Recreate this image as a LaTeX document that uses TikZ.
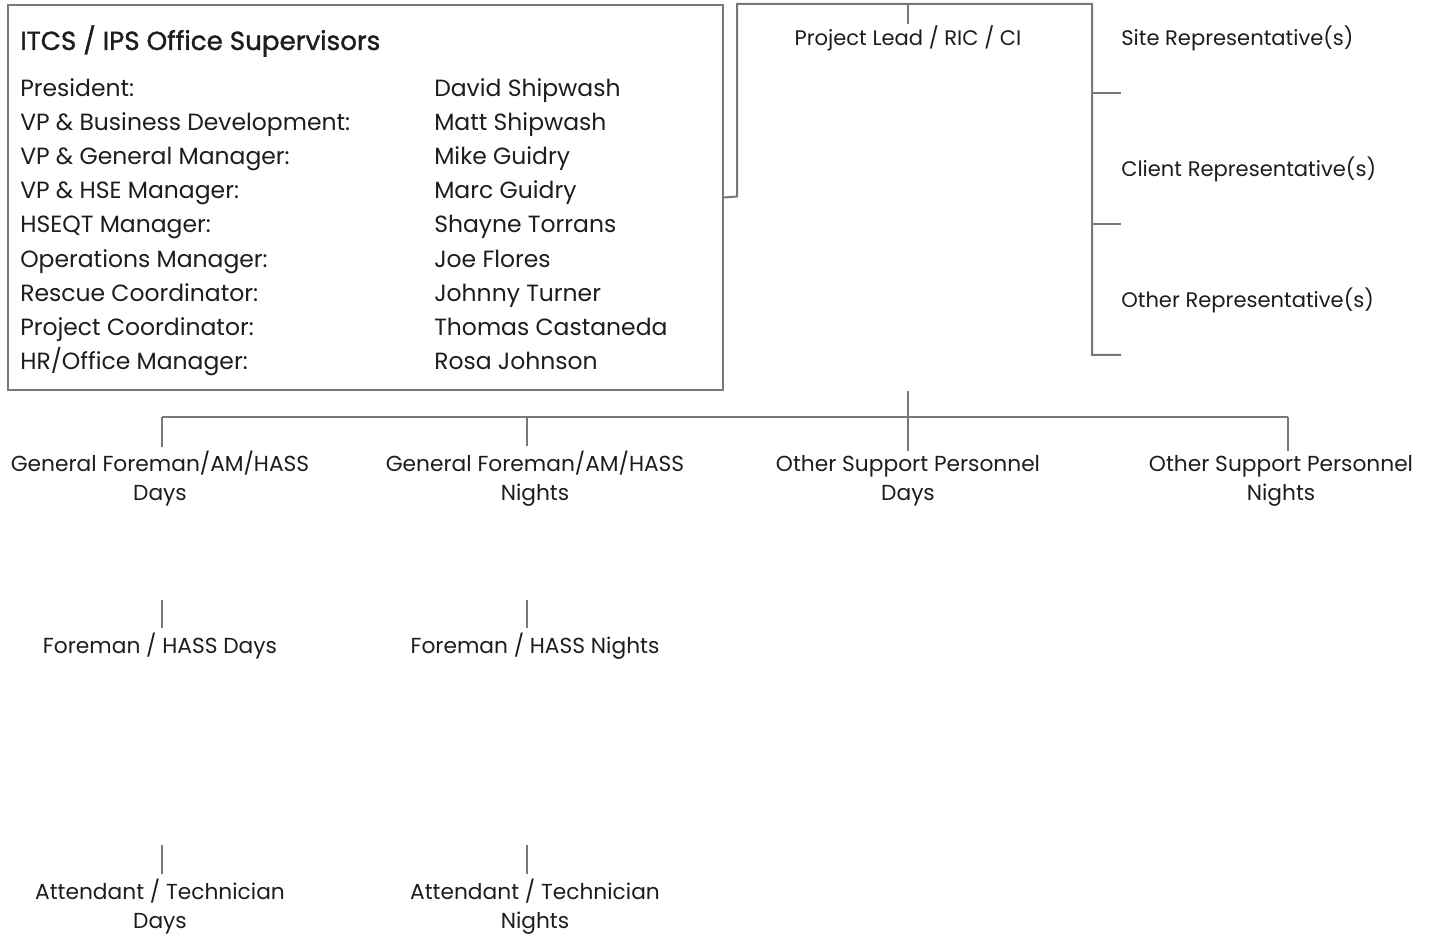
\documentclass[tikz,border=0pt]{standalone}
\usepackage{fontspec}
\setmainfont{Poppins}
\newfontfamily\headfont[FakeBold=1.3]{Poppins}
\usetikzlibrary{positioning}
\definecolor{linegrey}{HTML}{77787B}
\definecolor{inkgrey}{HTML}{1D1D1B}
\tikzstyle{frame} = [draw=linegrey, line width=1.5pt, rectangle, inner sep=0pt]
\tikzstyle{link} = [draw=linegrey, line width=1.5pt]
\tikzstyle{bar} = [draw=linegrey, line width=2.2pt]
\tikzstyle{rowtext} = [text=inkgrey, font=\fontsize{17.6}{22}\selectfont, anchor=base west, inner sep=0pt]
\tikzstyle{orgtext} = [text=inkgrey, font=\fontsize{16.3}{21.75}\selectfont, align=center, inner xsep=0pt, inner ysep=3.5pt]
\tikzstyle{reptext} = [orgtext, font=\fontsize{15.8}{21}\selectfont]

\begin{document}
\begin{tikzpicture}[x=0.75pt, y=-0.75pt]
    \useasboundingbox (0,0) rectangle (1433,937);
    \node [frame, anchor=north west, minimum width=536.25pt, minimum height=288.75pt] (office) at (7,4) {};
    \node [rowtext, font=\headfont\fontsize{19.6}{22}\selectfont] (heading) at (20,50) {ITCS / IPS Office Supervisors};
    \foreach \y/\role/\who in {96.5/President:/David Shipwash, 130.5/VP \& Business Development:/Matt Shipwash,
        164.5/VP \& General Manager:/Mike Guidry, 198.5/VP \& HSE Manager:/Marc Guidry, 232.5/HSEQT Manager:/Shayne Torrans,
        268/Operations Manager:/Joe Flores, 302/Rescue Coordinator:/Johnny Turner,
        336/Project Coordinator:/Thomas Castaneda, 370/{HR/Office Manager:}/Rosa Johnson}{
        \node [rowtext] (role-\y) at (20,\y) {\role};
        \node [rowtext] (who-\y) at (434,\y) {\who};
    }

    \node [reptext, inner ysep=0.5pt] (lead) at (908,38) {Project Lead / RIC / CI};
    \node [reptext, anchor=west] (site) at (1121,38) {Site Representative(s)};
    \node [reptext, anchor=west] (client) at (1121,169) {Client Representative(s)};
    \node [reptext, anchor=west] (otherrep) at (1121,300) {Other Representative(s)};
    \coordinate (ofc-out) at (737,196.5);
    \coordinate (top-left) at (737,4);
    \coordinate (top-right) at (1092,4);
    \coordinate (site-tick) at (1092,93);
    \coordinate (client-tick) at (1092,224);
    \coordinate (other-tick) at (1092,355);
    \draw [link] (office.east) -- (ofc-out) -- (top-left) -- (top-right) -- (other-tick) -- (other-tick -| site.west);
    \draw [link] (site-tick) -- (site-tick -| site.west);
    \draw [link] (client-tick) -- (client-tick -| site.west);
    \draw [link] (top-left -| lead) -- (lead.north);

    \node [orgtext] (gfdays) at (160,479) {General Foreman/AM/HASS\\Days};
    \node [orgtext] (gfnights) at (535,479) {General Foreman/AM/HASS\\Nights};
    \node [orgtext] (supdays) at (908,481) {Other Support Personnel\\Days};
    \node [orgtext] (supnights) at (1281,481) {Other Support Personnel\\Nights};
    \node [orgtext] (fdays) at (160,646) {Foreman / HASS Days};
    \node [orgtext] (fnights) at (535,646) {Foreman / HASS Nights};
    \node [orgtext] (tdays) at (160,906.5) {Attendant / Technician\\Days};
    \node [orgtext] (tnights) at (535,906.5) {Attendant / Technician\\Nights};

    \coordinate (hub) at (908,391);
    \coordinate (bar-mid) at (908,417);
    \coordinate (bar-left) at (162,417);
    \coordinate (bar-n) at (527,417);
    \coordinate (bar-right) at (1288,417);
    \draw [link] (hub) -- (bar-mid);
    \draw [bar] (bar-left) -- (bar-right);
    \draw [link] (bar-left) -- (bar-left |- gfdays.north);
    \draw [link] (bar-n) -- (bar-n |- gfnights.north);
    \draw [link] (bar-mid) -- (bar-mid |- supdays.north);
    \draw [link] (bar-right) -- (bar-right |- supnights.north);

    \coordinate (fd-up) at (162,600);
    \coordinate (fn-up) at (527,600);
    \coordinate (td-up) at (162,845);
    \coordinate (tn-up) at (527,845);
    \draw [link] (fd-up) -- (fd-up |- fdays.north);
    \draw [link] (fn-up) -- (fn-up |- fnights.north);
    \draw [link] (td-up) -- (td-up |- tdays.north);
    \draw [link] (tn-up) -- (tn-up |- tnights.north);
\end{tikzpicture}
\end{document}
